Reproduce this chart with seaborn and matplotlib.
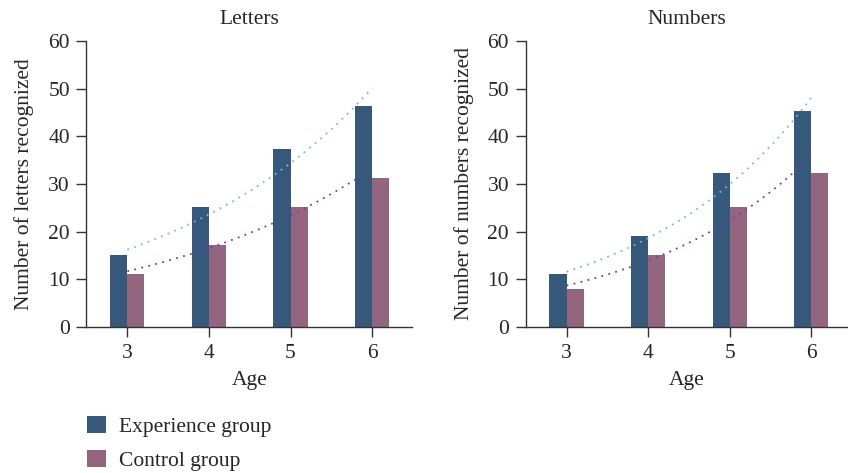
import numpy as np
import pandas as pd
import matplotlib.pyplot as plt
from matplotlib.patches import Patch
import seaborn as sns

# Data
ages = [3, 4, 5, 6]
groups = ["Experience group", "Control group"]
letters_exp = [15.1, 25.2, 37.4, 46.4]
letters_ctrl = [11.1, 17.2, 25.2, 31.3]
numbers_exp = [11.1, 19.1, 32.3, 45.4]
numbers_ctrl = [7.9, 15.1, 25.2, 32.3]

bar_colors = ["#36587a", "#93657e"]
trend_colors = ["#7fb2e5", "#7a35b5"]

sns.set_theme(style="ticks")
plt.rcParams['font.family'] = ['Liberation Serif', 'DejaVu Serif']


def long_df(exp_vals, ctrl_vals):
    rows = []
    for a, e, c in zip(ages, exp_vals, ctrl_vals):
        rows.append({"Age": str(a), "group": groups[0], "value": e})
        rows.append({"Age": str(a), "group": groups[1], "value": c})
    return pd.DataFrame(rows)


def draw_panel(ax, exp_vals, ctrl_vals, title, ylabel, xmax):
    df = long_df(exp_vals, ctrl_vals)
    sns.barplot(data=df, x="Age", y="value", hue="group", hue_order=groups,
                palette=bar_colors, width=0.42, gap=0, saturation=1,
                linewidth=0, legend=False, ax=ax)
    # exponential trend lines (like spreadsheet trendlines)
    xi = np.arange(len(ages))
    xs = np.linspace(0, len(ages) - 1, 60)
    for vals, col in zip([exp_vals, ctrl_vals], trend_colors):
        b, a = np.polyfit(xi, np.log(vals), 1)
        ax.plot(xs, np.exp(a + b * xs), linestyle=(0, (1, 3)), color=col,
                linewidth=1.3)
    ax.set_xlim(-0.5, xmax)
    ax.set_ylim(0, 60)
    ax.set_yticks(range(0, 61, 10))
    ax.set_title(title, fontsize=15.5, pad=12)
    ax.set_xlabel("Age", fontsize=15.5, labelpad=6)
    ax.set_ylabel(ylabel, fontsize=15.5, labelpad=10)
    ax.tick_params(labelsize=15.5, length=7, width=1, pad=5, color="#333333")
    for s in ["top", "right"]:
        ax.spines[s].set_visible(False)
    for s in ["left", "bottom"]:
        ax.spines[s].set_color("#333333")
        ax.spines[s].set_linewidth(1)


fig = plt.figure(figsize=(8.48, 4.73), dpi=100)
ax1 = fig.add_axes([0.102, 0.309, 0.384, 0.604])
ax2 = fig.add_axes([0.620, 0.309, 0.380, 0.604])

draw_panel(ax1, letters_exp, letters_ctrl, "Letters",
           "Number of letters recognized", 3.49)
draw_panel(ax2, numbers_exp, numbers_ctrl, "Numbers",
           "Number of numbers recognized", 3.45)

handles = [Patch(facecolor=c, edgecolor="none") for c in bar_colors]
fig.legend(handles, groups, loc="upper left", bbox_to_anchor=(0.103, 0.121),
           frameon=False, fontsize=15.5, handlelength=0.85, handleheight=0.85,
           labelspacing=0.62, handletextpad=0.6, borderaxespad=0,
           borderpad=0)

fig.savefig("out.png", dpi=100)
